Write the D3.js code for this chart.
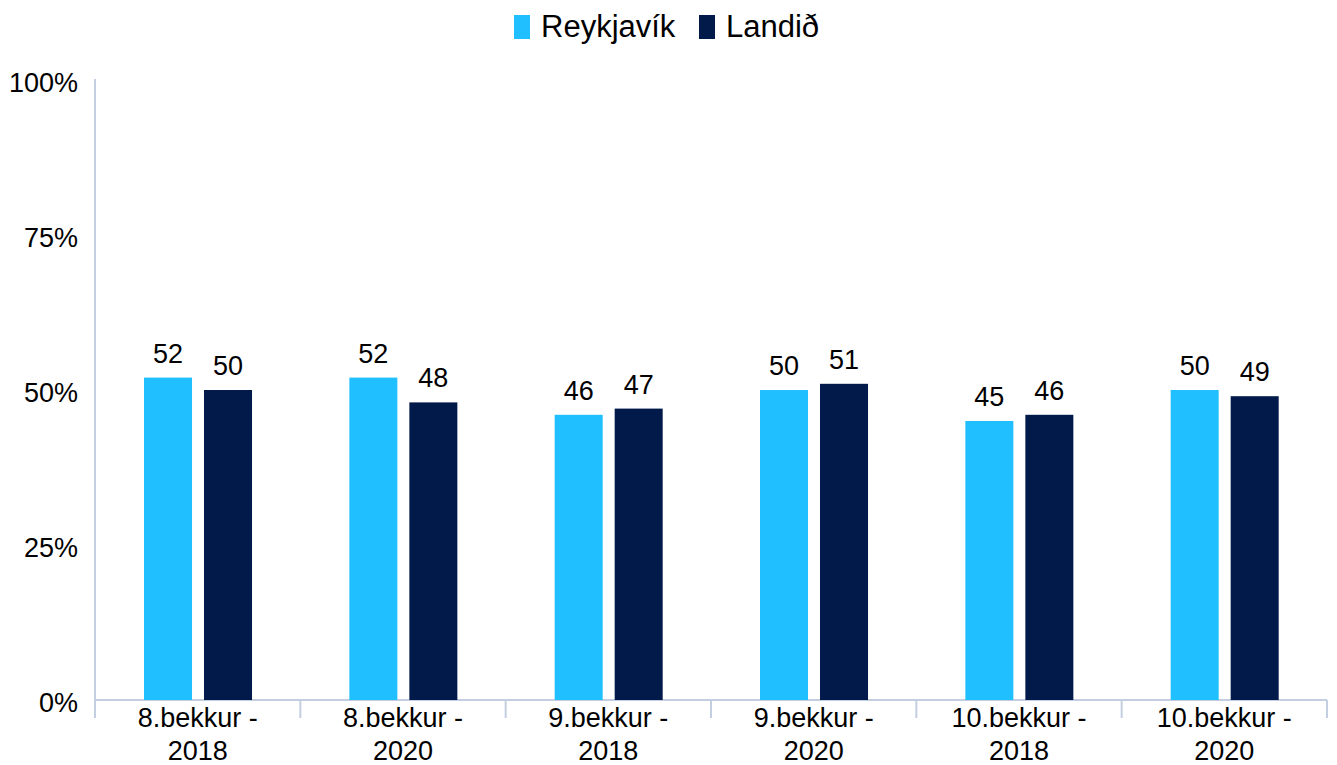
<!DOCTYPE html>
<html><head><meta charset="utf-8">
<script src="https://cdn.jsdelivr.net/npm/d3@7"></script>
<style>body{margin:0;background:#fff}svg{display:block;font-family:"Liberation Sans",Arial,sans-serif}</style>
</head><body><svg id="c" width="1337" height="765"></svg>
<script>
const categories = [["8.bekkur -","2018"],["8.bekkur -","2020"],["9.bekkur -","2018"],["9.bekkur -","2020"],["10.bekkur -","2018"],["10.bekkur -","2020"]];
const seriesNames = ["Reykjavík","Landið"];
const reykjavik = [52,52,46,50,45,50];
const landid = [50,48,47,51,46,49];
const yTicks = [0,25,50,75,100];
const colors = ["#20bfff","#021a4a"];

(function(){
const svg = d3.select("#c");
const mLeft=95, mRight=1327, mTop=80, mBottom=700;
const fs = 27;
const catIdx = categories.map((d,i)=>i);
const x0 = d3.scaleBand().domain(catIdx).range([mLeft,mRight]).padding(0);
const bw0 = x0.bandwidth();
const x1 = d3.scaleBand().domain(seriesNames).range([bw0*0.2387, bw0*0.7647]).paddingInner(0.2).paddingOuter(0);
const y = d3.scaleLinear().domain([0,100]).range([mBottom,mTop]);
const axisColor = "#c3cfe0";

svg.append("line").attr("x1",mLeft).attr("x2",mLeft).attr("y1",y(100)-1).attr("y2",718).attr("stroke",axisColor).attr("stroke-width",2);
const yAxis = d3.axisLeft(y).tickValues(yTicks).tickFormat(d=>d+"%").tickSize(0).tickPadding(17);
const ga = svg.append("g").attr("transform",`translate(${mLeft},0)`).call(yAxis);
ga.select(".domain").remove();
ga.selectAll("text").attr("font-size",fs).attr("fill","#000").attr("dy","11px").attr("font-family","Liberation Sans, Arial, sans-serif");

svg.append("line").attr("x1",mLeft).attr("x2",mRight).attr("y1",mBottom).attr("y2",mBottom).attr("stroke",axisColor).attr("stroke-width",2);
const tickXs = catIdx.map(i=>x0(i)).concat([mRight]);
svg.selectAll(".xt").data(tickXs).join("line").attr("x1",d=>d).attr("x2",d=>d).attr("y1",mBottom).attr("y2",718).attr("stroke",axisColor).attr("stroke-width",2);

const seriesData = [reykjavik, landid];
seriesNames.forEach((s,si)=>{
  const vals = seriesData[si];
  svg.selectAll(".b"+si).data(vals).join("rect")
    .attr("x",(d,i)=>x0(i)+x1(s)).attr("width",x1.bandwidth())
    .attr("y",d=>y(d)).attr("height",d=>y(0)-y(d)).attr("fill",colors[si]);
  svg.selectAll(".l"+si).data(vals).join("text")
    .attr("x",(d,i)=>x0(i)+x1(s)+x1.bandwidth()/2).attr("y",d=>y(d)-15)
    .attr("text-anchor","middle").attr("font-size",fs).attr("fill","#000").text(d=>d);
});

categories.forEach((c,i)=>{
  const cx = x0(i)+bw0/2;
  svg.append("text").attr("x",cx).attr("y",727).attr("text-anchor","middle").attr("font-size",fs).attr("fill","#000").text(c[0]);
  svg.append("text").attr("x",cx).attr("y",760).attr("text-anchor","middle").attr("font-size",fs).attr("fill","#000").text(c[1]);
});

const legX = [514, 699];
seriesNames.forEach((s,si)=>{
  svg.append("rect").attr("x",legX[si]).attr("y",15).attr("width",16).attr("height",24).attr("fill",colors[si]);
  svg.append("text").attr("x",legX[si]+27).attr("y",37).attr("font-size",31).attr("fill","#000").text(s);
});
})();
</script></body></html>
